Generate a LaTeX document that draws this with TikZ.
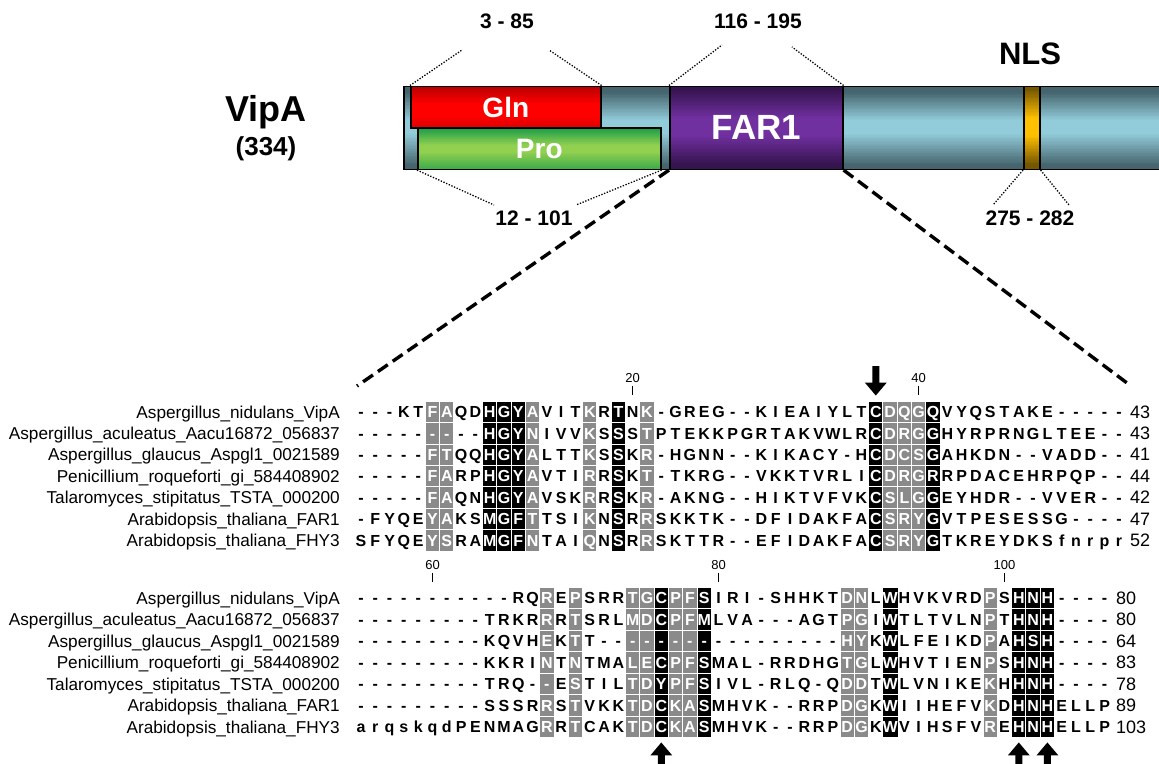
\documentclass[tikz,border=0pt]{standalone}
\usepackage{fontspec}
\setmainfont{Liberation Sans}
\usetikzlibrary{arrows.meta}

% domain colours
\definecolor{tealdk}{HTML}{45646D}
\definecolor{teallt}{HTML}{92CBD9}
\definecolor{reddk}{HTML}{B80000}
\definecolor{redlt}{HTML}{FF0000}
\definecolor{grndk}{HTML}{1C9E48}
\definecolor{grnlt}{HTML}{92D050}
\definecolor{purdk}{HTML}{36144F}
\definecolor{purlt}{HTML}{7030A0}
\definecolor{golddk}{HTML}{765700}
\definecolor{goldlt}{HTML}{FFC000}
\definecolor{resgray}{HTML}{8A8A8A}

% vertical gradient made of thin bands: dark colour #5 at the edges, light
% colour #6 inside; the dark share falls from #8 at the top edge to 0 at
% fraction #7 of the height, and rises from 0 at fraction #9 to #10 at the bottom
\newcommand\gradfill[4]{\def\gx{#1}\def\gy{#2}\def\gX{#3}\def\gY{#4}\gradfillx}
\newcommand\gradfillx[6]{%
  \foreach \k in {0,...,59}{%
    \pgfmathsetmacro\gt{(\k+0.5)/60}%
    \pgfmathsetmacro\gtop{\gt<#3 ? #4*(#3-\gt)/#3 : 0}%
    \pgfmathsetmacro\gbot{\gt>#5 ? #6*(\gt-#5)/(1-#5) : 0}%
    \pgfmathtruncatemacro\gp{min(100,\gtop+\gbot)}%
    \fill[#1!\gp!#2] (\gx,{\gy+(\gY-\gy)*\k/60}) rectangle (\gX,{\gy+(\gY-\gy)*(\k+1)/60+0.4});
  }}

% alignment rows: one node per residue, shading code g = grey, k = black, . = none
\newcount\alncol
\newcommand\alnrow[5]{% #1 block, #2 row, #3 y, #4 residues, #5 shading codes
  \def\alnb{#1}\def\alnr{#2}\def\alny{#3}%
  \alncol=0
  \alnstep#4\relax#5\relax}
\def\alnstep#1#2\relax#3#4\relax{%
  \advance\alncol by 1
  \alncell{#1}{#3}%
  \ifx\relax#2\relax\else\alnstep#2\relax#4\relax\fi}
\newcommand\alncell[2]{%
  \pgfmathsetmacro\alnx{361+(\the\alncol-1)*14.3}%
  \ifx g#2\node[res,resg] (a\alnb r\alnr c\the\alncol) at (\alnx,\alny) {#1};%
  \else\ifx k#2\node[res,resk] (a\alnb r\alnr c\the\alncol) at (\alnx,\alny) {#1};%
  \else\node[res] (a\alnb r\alnr c\the\alncol) at (\alnx,\alny) {#1};%
  \fi\fi}

\begin{document}
\begin{tikzpicture}[x=1pt,y=-1pt,
  dom/.style={draw=black, line width=1.6pt, inner sep=0pt, anchor=north west},
  domtxt/.style={text=white, font=\bfseries\fontsize{#1}{#1}\selectfont},
  lbl/.style={font=\bfseries\fontsize{#1}{#1}\selectfont, inner sep=0pt, anchor=base},
  guide/.style={line width=1.3pt, dash pattern=on 1.3pt off 1.6pt},
  zoomline/.style={line width=3.4pt, dash pattern=on 12pt off 6pt},
  res/.style={inner sep=0pt, minimum width=13.3pt, minimum height=20.4pt,
    text height=11.5pt, text depth=0pt, font=\bfseries\fontsize{16}{18}\selectfont},
  resg/.style={fill=resgray, text=white},
  resk/.style={fill=black, text=white},
  seqname/.style={anchor=east, inner sep=0pt, text height=12.3pt, text depth=0pt,
    font=\fontsize{17.2}{19}\selectfont},
  seqend/.style={anchor=west, inner sep=0pt, text height=12.3pt, text depth=0pt,
    font=\fontsize{18}{20}\selectfont},
  tick/.style={font=\fontsize{13}{15}\selectfont, inner sep=0pt},
  ticklin/.style={line width=0.9pt},
  site/.style={line width=7pt, -{Triangle[width=21pt,length=13pt]}}
]
\useasboundingbox (0,0) rectangle (1159,763);

% ---- domain map ----
\gradfill{403}{85.5}{1170}{168.5}{tealdk}{teallt}{0.42}{125}{0.58}{110}
\node[dom, minimum width=770pt, minimum height=83pt] (bar) at (403,85.5) {};
\gradfill{417}{127}{660}{168.5}{grndk}{grnlt}{0.45}{110}{0.6}{70}
\node[dom, minimum width=243pt, minimum height=41.5pt, domtxt=28] (pro) at (417,127) {Pro};
\gradfill{410}{85.5}{600}{127}{reddk}{redlt}{0.45}{110}{0.75}{45}
\node[dom, minimum width=190pt, minimum height=41.5pt, domtxt=28] (gln) at (410,85.5) {Gln};
\gradfill{669}{85.5}{842}{168.5}{purdk}{purlt}{0.4}{115}{0.6}{115}
\node[dom, minimum width=173pt, minimum height=83pt, domtxt=35] (far) at (669,85.5) {FAR1};
\gradfill{1023}{85.5}{1039}{168.5}{golddk}{goldlt}{0.4}{115}{0.6}{115}
\node[dom, minimum width=16pt, minimum height=83pt] (nls) at (1023,85.5) {};

\node[lbl=36] (vipa) at (266,121.4) {VipA};
\node[lbl=26] (len) at (266,155.3) {(334)};
\node[lbl=21] (rgln) at (507,28.5) {3 - 85};
\node[lbl=21] (rfar) at (758,28.5) {116 - 195};
\node[lbl=31] (lnls) at (1030,64.1) {NLS};
\node[lbl=21] (rpro) at (534,225.5) {12 - 101};
\node[lbl=21] (rnls) at (1030,225.5) {275 - 282};

\coordinate (gA) at (462,50);  \coordinate (gB) at (549,50);
\coordinate (fA) at (722,45);  \coordinate (fB) at (792,47);
\coordinate (pA) at (494,205); \coordinate (pB) at (576,205);
\coordinate (nA) at (993,205); \coordinate (nB) at (1069,205);
\draw[guide] (gln.north west) -- (gA);
\draw[guide] (gln.north east) -- (gB);
\draw[guide] (far.north west) -- (fA);
\draw[guide] (far.north east) -- (fB);
\draw[guide] (pro.south west) -- (pA);
\draw[guide] (pro.south east) -- (pB);
\draw[guide] (nls.south west) -- (nA);
\draw[guide] (nls.south east) -- (nB);

\coordinate (zl) at (357,386);
\coordinate (zr) at (1131,386);
\draw[zoomline] (far.south west) -- (zl);
\draw[zoomline] (far.south east) -- (zr);

% ---- alignment, block 1 ----
\alnrow{1}{1}{412}{---KTFAQDH GYAVITKRTN K-GREG--KI EAIYLTCDQG QVYQSTAKE- ----}{.....gg..k kkg...g.k. g......... ......kggg k......... ....}
\alnrow{1}{2}{433.4}{---------H GYNIVVKSSS TPTEKKPGRT AKVWLRCDRG GHYRPRNGLT EE--}{.....gg..k kkg...g.k. g......... ......kggg k......... ....}
\alnrow{1}{3}{454.8}{-----FTQQH GYALTTKSSK R-HGNN--KI KACY-HCDCS GAHKDN--VA DD--}{.....gg..k kkg...g.k. g......... ......kggg k......... ....}
\alnrow{1}{4}{476.2}{-----FARPH GYAVTIRRSK T-TKRG--VK KTVRLICDRG RRPDACEHRP QP--}{.....gg..k kkg...g.k. g......... ......kggg k......... ....}
\alnrow{1}{5}{497.6}{-----FAQNH GYAVSKRRSK R-AKNG--HI KTVFVKCSLG GEYHDR--VV ER--}{.....gg..k kkg...g.k. g......... ......kggg k......... ....}
\alnrow{1}{6}{519}{-FYQEYAKSM GFTTSIKNSR RSKKTK--DF IDAKFACSRY GVTPESESSG ----}{.....gg..k kkg...g.k. g......... ......kggg k......... ....}
\alnrow{1}{7}{540.4}{SFYQEYSRAM GFNTAIQNSR RSKTTR--EF IDAKFACSRY GTKREYDKSf nrpr}{.....gg..k kkg...g.k. g......... ......kggg k......... ....}

% ---- alignment, block 2 ----
\alnrow{2}{1}{598}{---------- -RQREPSRRT GCPFSIRI-S HHKTDNLWHV KVRDPSHNH- ---}{.......... ...g.g...g gkggk..... ....gg.k.. ....g.kkk. ...}
\alnrow{2}{2}{619.5}{---------T RKRRRTSRLM DCPFMLVA-- -AGTPGIWTL TVLNPTHNH- ---}{.......... ...g.g...g gkggk..... ....gg.k.. ....g.kkk. ...}
\alnrow{2}{3}{641}{---------K QVHEKTT--- ---------- ----HYKWLF EIKDPAHSH- ---}{.......... ...g.g...g gkggk..... ....gg.k.. ....g.kkk. ...}
\alnrow{2}{4}{662.5}{---------K KRINTNTMAL ECPFSMAL-R RDHGTGLWHV TIENPSHNH- ---}{.......... ...g.g...g gkggk..... ....gg.k.. ....g.kkk. ...}
\alnrow{2}{5}{684}{---------T RQ--ESTILT DYPFSIVL-R LQ-QDDTWLV NIKEKHHNH- ---}{.......... ...g.g...g gkggk..... ....gg.k.. ....g.kkk. ...}
\alnrow{2}{6}{705.5}{---------S SSRRSTVKKT DCKASMHVK- -RRPDGKWII HEFVKDHNHE LLP}{.......... ...g.g...g gkggk..... ....gg.k.. ....g.kkk. ...}
\alnrow{2}{7}{727}{arqskqdPEN MAGRRTCAKT DCKASMHVK- -RRPDGKWVI HSFVREHNHE LLP}{.......... ...g.g...g gkggk..... ....gg.k.. ....g.kkk. ...}

% sequence names and end positions
\foreach \nm [count=\i] in {Aspergillus\_nidulans\_VipA, Aspergillus\_aculeatus\_Aacu16872\_056837,
    Aspergillus\_glaucus\_Aspgl1\_0021589, Penicillium\_roqueforti\_gi\_584408902,
    Talaromyces\_stipitatus\_TSTA\_000200, Arabidopsis\_thaliana\_FAR1, Arabidopsis\_thaliana\_FHY3} {
  \node[seqname] (n1r\i) at (340,{412+(\i-1)*21.4}) {\nm};
  \node[seqname] (n2r\i) at (340,{598+(\i-1)*21.5}) {\nm};
}
\foreach \v [count=\i] in {43,43,41,44,42,47,52}
  \node[seqend] (e1r\i) at (1130,{412+(\i-1)*21.4}) {\v};
\foreach \v [count=\i] in {80,80,64,83,78,89,103}
  \node[seqend] (e2r\i) at (1116,{598+(\i-1)*21.5}) {\v};

% position ruler
\foreach \lab/\c in {20/20,40/40} {
  \node[tick] (t\lab) at ({361+(\c-1)*14.3},378) {\lab};
  \draw[ticklin] (t\lab.south) ++(0,3) -- ++(0,9);
}
\foreach \lab/\c in {60/6,80/26,100/46} {
  \node[tick] (t\lab) at ({361+(\c-1)*14.3},565) {\lab};
  \draw[ticklin] (t\lab.south) ++(0,3) -- ++(0,9);
}

% marked residues
\coordinate (dn1) at (875.8,366);
\coordinate (up1) at (661.3,775);
\coordinate (up2) at (1018.8,775);
\coordinate (up3) at (1047.4,775);
\draw[site, shorten >=6pt] (dn1) -- (a1r1c37.north);
\draw[site, shorten >=5pt] (up1) -- (a2r7c22.south);
\draw[site, shorten >=5pt] (up2) -- (a2r7c47.south);
\draw[site, shorten >=5pt] (up3) -- (a2r7c49.south);
\end{tikzpicture}
\end{document}
